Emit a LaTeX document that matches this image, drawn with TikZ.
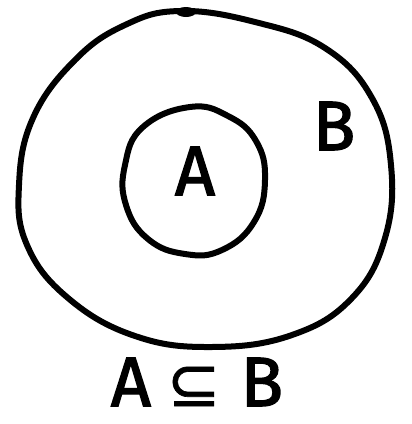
\documentclass[tikz,border=0pt]{standalone}
\usepackage{fontspec}
\setmainfont{Fira Sans}[FakeBold=2]
\newfontfamily\symfont{DejaVu Sans}[FakeBold=1]
\begin{document}
\begin{tikzpicture}[x=1pt,y=-1pt,
  pen/.style={line width=6pt,line cap=round,line join=round,black},
  lbl/.style={inner sep=0pt,font=\fontsize{70}{70}\selectfont}]
\useasboundingbox (0,0) rectangle (412,424);
% outer set B
\draw[pen] plot[smooth cycle,tension=0.7] coordinates {
  (180,11) (255,22) (325,48) (372,98) (391,165) (385,238) (352,298)
  (292,335) (212,347) (135,336) (68,298) (27,245) (19,185) (33,118)
  (75,60) (125,25)};
\fill (186,12) ellipse (10pt and 5pt);
% inner set A
\draw[pen] plot[smooth cycle,tension=0.75] coordinates {
  (190,107) (228,116) (256,141) (265,180) (254,222) (222,250)
  (185,254) (148,239) (126,205) (125,165) (143,127)};
\node[lbl] (a) at (195,171) {A};
\node[lbl] (b) at (334,126) {B};
\node[lbl] (rel) at (197,382) {A\hspace{16pt}{\symfont\fontsize{64}{64}\selectfont ⊆}\hspace{20pt}B};
\end{tikzpicture}
\end{document}
